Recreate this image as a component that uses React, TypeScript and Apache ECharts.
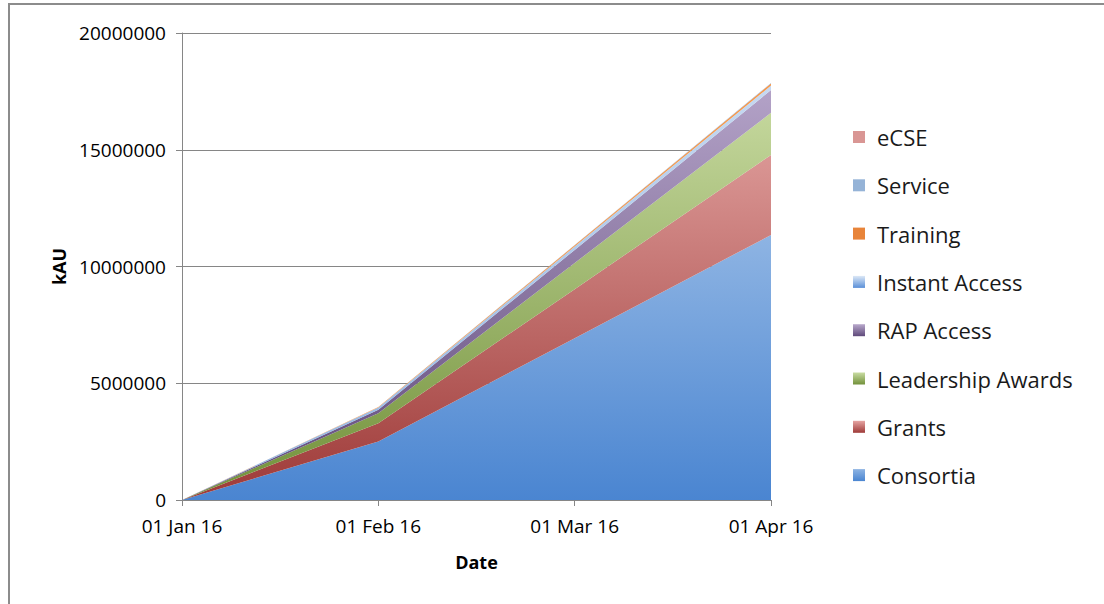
import React, { useEffect, useRef } from "react";
import * as echarts from "echarts";

const categories = ["01 Jan 16", "01 Feb 16", "01 Mar 16", "01 Apr 16"];
const consortia = [0, 2510000, 6930000, 11350000];
const grants = [0, 780000, 2100000, 3430000];
const leadership = [0, 430000, 1120000, 1800000];
const rap = [0, 140000, 560000, 980000];
const instant = [0, 100000, 145000, 190000];
const training = [0, 20000, 55000, 90000];
const service = [0, 5000, 10000, 15000];
const ecse = [0, 0, 0, 0];
const yTicks = { min: 0, max: 20000000, interval: 5000000 };

const seriesDefs = [
  { name: "Consortia", data: consortia, top: "#8EB4E3", bottom: "#4A85D1", iconTop: "#8EB4E3", iconBottom: "#4A85D1" },
  { name: "Grants", data: grants, top: "#DA9694", bottom: "#9E3A38", iconTop: "#E6A5A3", iconBottom: "#9E3A38" },
  { name: "Leadership Awards", data: leadership, top: "#C3D69B", bottom: "#72913A", iconTop: "#C9DCA3", iconBottom: "#72913A" },
  { name: "RAP Access", data: rap, top: "#B3A2C7", bottom: "#5F497A", iconTop: "#B9A9CC", iconBottom: "#5F497A" },
  { name: "Instant Access", data: instant, top: "#C6D9F1", bottom: "#8EB4E3", iconTop: "#DCE8F6", iconBottom: "#5A8FD8" },
  { name: "Training", data: training, top: "#F79646", bottom: "#F79646", iconTop: "#E8843A", iconBottom: "#E8843A" },
  { name: "Service", data: service, top: "#95B3D7", bottom: "#95B3D7", iconTop: "#95B3D7", iconBottom: "#95B3D7" },
  { name: "eCSE", data: ecse, top: "#D99694", bottom: "#D99694", iconTop: "#D99694", iconBottom: "#D99694" },
];

export default function App() {
  const ref = useRef<HTMLDivElement>(null);
  useEffect(() => {
    if (!ref.current) return;
    const chart = echarts.init(ref.current, null, { renderer: "svg" });
    const font = "'Open Sans', 'Noto Sans', sans-serif";
    chart.setOption({
      animation: false,
      backgroundColor: "#fff",
      grid: { left: 182, right: 333, top: 33, bottom: 104 },
      legend: {
        orient: "vertical",
        left: 848,
        top: 121,
        itemWidth: 12,
        itemHeight: 12,
        itemGap: 26.3,
        icon: "rect",
        data: seriesDefs.map((s) => s.name).reverse(),
        textStyle: { fontFamily: font, fontSize: 22, color: "#1a1a1a", lineHeight: 22, padding: [0, 0, 0, 7] },
      },
      xAxis: {
        type: "category",
        data: categories,
        boundaryGap: false,
        name: "Date",
        nameLocation: "middle",
        nameGap: 53,
        nameTextStyle: { fontFamily: font, fontSize: 18, fontWeight: "bold", color: "#000" },
        axisLine: { lineStyle: { color: "#868686", width: 1 } },
        axisTick: { show: true, length: 6, lineStyle: { color: "#868686" } },
        axisLabel: { fontFamily: font, fontSize: 19, color: "#000", margin: 16 },
      },
      yAxis: {
        type: "value",
        min: yTicks.min,
        max: yTicks.max,
        interval: yTicks.interval,
        name: "kAU",
        nameLocation: "middle",
        nameGap: 113,
        nameTextStyle: { fontFamily: font, fontSize: 18, fontWeight: "bold", color: "#000" },
        axisLine: { show: true, lineStyle: { color: "#868686", width: 1 } },
        axisTick: { show: true, length: 6, lineStyle: { color: "#868686" } },
        axisLabel: { fontFamily: font, fontSize: 19, color: "#000", margin: 16, formatter: (v: number) => String(v) },
        splitLine: { show: true, lineStyle: { color: "#868686", width: 1 } },
      },
      graphic: [
        { type: "line", shape: { x1: 8, y1: 4, x2: 1104, y2: 4 }, style: { stroke: "#8c8c8c", lineWidth: 2 } },
        { type: "line", shape: { x1: 9, y1: 4, x2: 9, y2: 604 }, style: { stroke: "#8c8c8c", lineWidth: 2 } },
      ],
      series: seriesDefs.map((s) => ({
        name: s.name,
        type: "line",
        stack: "total",
        data: s.data,
        showSymbol: false,
        symbol: "none",
        lineStyle: { width: 0 },
        itemStyle: {
          color: new echarts.graphic.LinearGradient(0, 0, 0, 1, [
            { offset: 0, color: s.iconTop },
            { offset: 1, color: s.iconBottom },
          ]),
        },
        areaStyle: {
          opacity: 1,
          color: new echarts.graphic.LinearGradient(0, 0, 0, 1, [
            { offset: 0, color: s.top },
            { offset: 1, color: s.bottom },
          ]),
        },
      })),
    });
    return () => chart.dispose();
  }, []);
  return <div ref={ref} style={{ position: "fixed", left: 0, top: 0, width: 1104, height: 604 }} />;
}
